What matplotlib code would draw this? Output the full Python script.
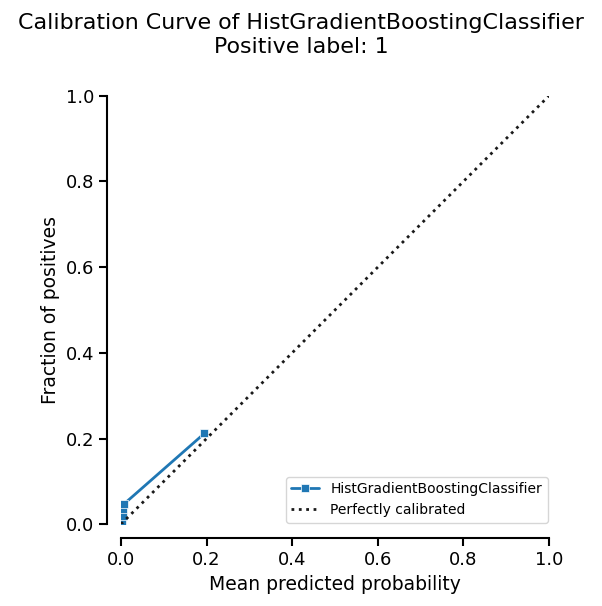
import numpy as np
import matplotlib.pyplot as plt
import seaborn as sns

sns.set_theme(style="ticks", context="notebook")
plt.rcParams['font.family'] = ['DejaVu Sans']
plt.rcParams['text.color'] = 'black'
plt.rcParams['axes.labelcolor'] = 'black'
plt.rcParams['xtick.color'] = 'black'
plt.rcParams['ytick.color'] = 'black'
plt.rcParams['axes.edgecolor'] = 'black'

# calibration curve points
prob_pred = [0.003, 0.005, 0.005, 0.008, 0.195]
prob_true = [0.003, 0.019, 0.035, 0.048, 0.212]
ref_line = [0, 1]

fig, ax = plt.subplots(figsize=(6.02, 6.06), dpi=100)
fig.subplots_adjust(left=0.201, right=0.912, bottom=0.135, top=0.842)

ax.plot(prob_pred, prob_true, "s-", color="#1f77b4", markersize=6,
        markeredgecolor="white", markeredgewidth=0.5, linewidth=2,
        label="HistGradientBoostingClassifier")
ax.plot(ref_line, ref_line, "k:", linewidth=2, label="Perfectly calibrated")

ax.set_xlim(-0.0, 1.0)
ax.set_ylim(-0.0, 1.0)
ax.set_xticks(np.arange(0, 1.01, 0.2))
ax.set_yticks(np.arange(0, 1.01, 0.2))
ax.tick_params(labelsize=13, length=6, width=1.5)
ax.set_xlabel("Mean predicted probability", fontsize=13.5)
ax.set_ylabel("Fraction of positives", fontsize=13.5)
ax.legend(loc="lower right", fontsize=10, borderaxespad=0.1)
for s in ax.spines.values():
    s.set_linewidth(1.5)
sns.despine(ax=ax, offset=10)
fig.suptitle("Calibration Curve of HistGradientBoostingClassifier\nPositive label: 1",
             fontsize=15.9, y=0.978)

fig.savefig("out.png")
